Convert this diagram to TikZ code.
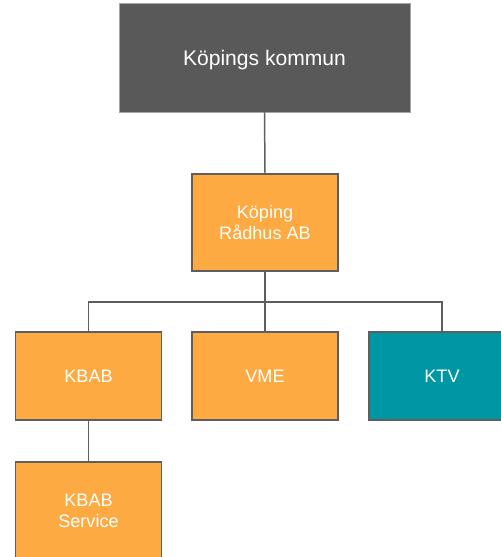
\documentclass[tikz,border=0pt]{standalone}
\usepackage{fontspec}
\setmainfont{Liberation Sans}
\usepackage{xcolor}
\usetikzlibrary{positioning}

\definecolor{boardgray}{HTML}{595959}
\definecolor{edgegray}{HTML}{5E5E5E}
\definecolor{orgorange}{HTML}{FDAA42}
\definecolor{orgteal}{HTML}{0097A5}

\tikzset{
    unit/.style={draw=edgegray, line width=0.85pt, text=white, align=center,
        minimum width=2.92cm, minimum height=1.76cm, inner sep=0pt,
        font=\fontsize{10.3}{12}\selectfont},
    company/.style={unit, fill=orgorange},
    link/.style={draw=edgegray, line width=0.85pt}
}

\begin{document}
\begin{tikzpicture}[x=0.02cm, y=-0.02cm]
    \useasboundingbox (0,0) rectangle (500,557);

    % Municipality at the top
    \node[unit, fill=boardgray, draw=gray!70, line width=0.5pt,
          minimum width=5.82cm, minimum height=2.18cm, text depth=0pt,
          font=\fontsize{12}{14}\selectfont] (kommun) at (264.5,57.5) {Köpings kommun};

    % Holding company
    \node[company, minimum height=1.94cm] (radhus) at (265,222.5) {Köping\\Rådhus AB};

    % Subsidiaries
    \node[company] (kbab) at (88.5,376) {KBAB};
    \node[company] (vme) at (265,376) {VME};
    \node[unit, fill=orgteal] (ktv) at (442,376) {KTV};

    % Service company below KBAB
    \node[company, minimum height=1.94cm] (kbabs) at (88.5,510.5) {KBAB\\Service};

    % Connections
    \coordinate (bus) at (265,302);
    \draw[link] (kommun.south) -- (radhus.north);
    \draw[link] (radhus.south) -- (bus);
    \draw[link] (bus) -| (kbab.north);
    \draw[link] (bus) -- (vme.north);
    \draw[link] (bus) -| (ktv.north);
    \draw[link] (kbab.south) -- (kbabs.north);
\end{tikzpicture}
\end{document}
